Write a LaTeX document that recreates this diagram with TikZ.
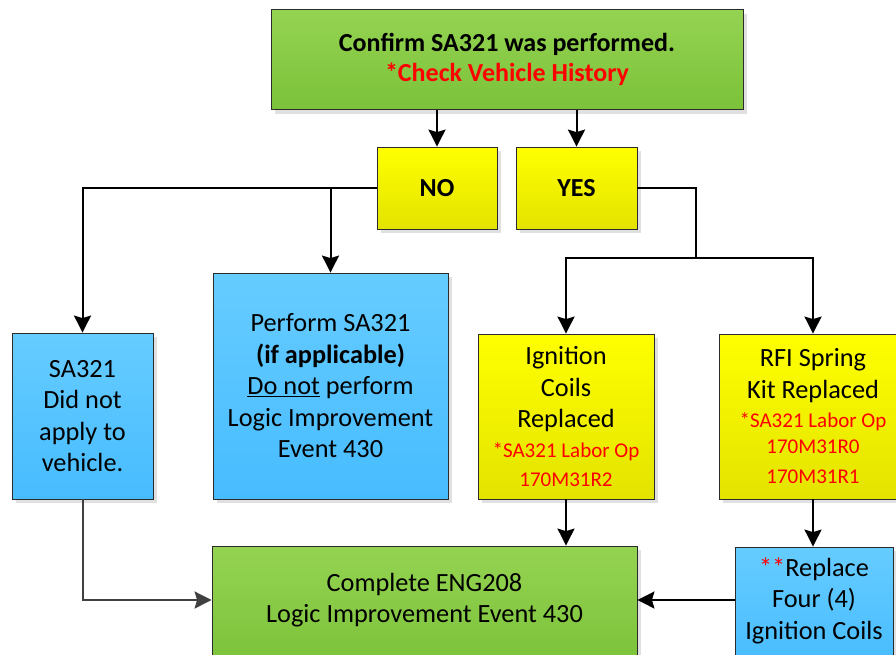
\documentclass[tikz,border=0pt]{standalone}
\usepackage{fontspec}
\setmainfont{Carlito}
\usetikzlibrary{arrows.meta,shadows}
\definecolor{gtop}{HTML}{94D352}
\definecolor{gbot}{HTML}{7CC23A}
\definecolor{ytop}{HTML}{FFFF00}
\definecolor{ybot}{HTML}{E3E300}
\definecolor{btop}{HTML}{66CCFF}
\definecolor{bbot}{HTML}{47BCFF}
\definecolor{redtxt}{HTML}{FF0000}
\definecolor{edge}{HTML}{2B2B2B}
\definecolor{conngray}{HTML}{404040}
\newcommand\rdline[1]{{\fontsize{21}{25}\selectfont\color{redtxt}#1}}
\begin{document}
\begin{tikzpicture}[x=1pt,y=-1pt,
  box/.style={draw=edge, line width=0.8pt, rectangle, inner sep=0pt, align=center,
    font=\fontsize{26.3}{31.5}\selectfont,
    drop shadow={shadow xshift=4pt,shadow yshift=-4pt,fill=black!12,opacity=1}},
  gbox/.style={box, top color=gtop, bottom color=gbot},
  ybox/.style={box, top color=ytop, bottom color=ybot},
  bbox/.style={box, top color=btop, bottom color=bbot},
  txt/.style={align=center, inner sep=0pt, font=\fontsize{26.3}{31.5}\selectfont},
  arr/.style={line width=2pt, draw=black, -{Stealth[length=17pt,width=17pt,inset=2.5pt]}},
  garr/.style={line width=2pt, draw=conngray, -{Stealth[length=17pt,width=17pt,inset=2.5pt]}},
  plain/.style={line width=2pt, draw=black}
]
\path[use as bounding box, clip] (0,0) rectangle (896,654);
\fill[white] (0,0) rectangle (896,654);

\node[gbox, minimum width=472pt, minimum height=100pt, font=\fontsize{26}{30.5}\selectfont\bfseries] (top) at (507,59.5)
  {Confirm SA321 was performed.\\ \textcolor{redtxt}{*Check Vehicle History}};

\node[ybox, minimum width=120pt, minimum height=82pt, font=\fontsize{26}{30}\selectfont\bfseries] (no) at (437,188) {NO};
\node[ybox, minimum width=121pt, minimum height=82pt, font=\fontsize{26}{30}\selectfont\bfseries] (yes) at (576.5,188) {YES};

\node[bbox, minimum width=141pt, minimum height=166pt] (sa) at (82.5,416)
  {SA321\\Did not\\apply to\\vehicle.};
\node[bbox, minimum width=235pt, minimum height=226pt] (perf) at (330.5,386)
  {Perform SA321\\\textbf{(if applicable)}\\\underline{Do not} perform\\Logic Improvement\\Event 430};

\node[ybox, minimum width=176pt, minimum height=165pt] (ign) at (566,416.5)
  {Ignition\\Coils\\Replaced\\[-2pt]\rdline{*SA321 Labor Op}\\[-2pt]\rdline{170M31R2}};
\node[ybox, minimum width=188pt, minimum height=165pt] (rfi) at (813,416.5)
  {RFI Spring\\Kit Replaced\\[-2pt]\rdline{*SA321 Labor Op}\\[-6pt]\rdline{170M31R0}\\[-1pt]\rdline{170M31R1}};

\node[gbox, minimum width=425pt, minimum height=120pt] (done) at (424.5,606) {};
\node[txt] (donet) at (424.5,600) {Complete ENG208\\Logic Improvement Event 430};

\node[bbox, minimum width=158pt, minimum height=120pt] (rep) at (814,607) {};
\node[txt] (rept) at (814,600.5) {\textcolor{redtxt}{**}Replace\\Four (4)\\Ignition Coils};

% connectors
\draw[arr] (top.south -| no.north) -- (no.north);
\draw[arr] (top.south -| yes.north) -- (yes.north);

\draw[arr] (no.west) -| (sa.north);
\draw[arr] (perf.north |- no.west) -- (perf.north);

\coordinate (yj) at (696,258);
\draw[plain] (yes.east) -| (yj);
\draw[arr] (yj) -| (ign.north);
\draw[arr] (yj) -| (rfi.north);

\draw[arr] (ign.south) -- (ign.south |- done.north);
\draw[arr] (rfi.south) -- (rfi.south |- rep.north);

\draw[garr] (sa.south) |- (done.west |- donet.center);
\draw[arr] (rep.west |- donet.center) -- (done.east |- donet.center);
\end{tikzpicture}
\end{document}
